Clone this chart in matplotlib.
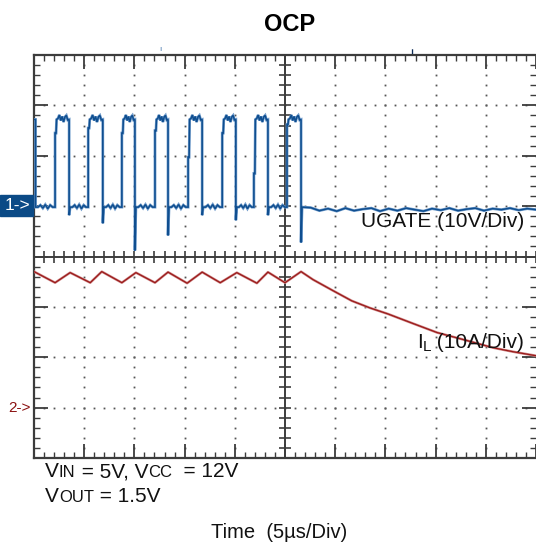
import matplotlib
matplotlib.use("Agg")
import matplotlib.pyplot as plt
from matplotlib.patches import Rectangle
import numpy as np

plt.rcParams['font.family'] = ['Liberation Sans', 'DejaVu Sans']

# ---------------- data (in scope divisions) ----------------
# UGATE (channel 1, ground at +1 div)
gate_rise = [0.42, 1.08, 1.75, 2.41, 3.07, 3.75, 4.38, 5.04]
gate_fall = [0.70, 1.37, 2.01, 2.67, 3.35, 4.02, 4.66, 5.32]
gate_step = [2.45, 2.55, 2.45, 2.50, 1.97, 2.45, 1.65, 2.62]
gate_spike = [0.82, 0.66, 0.12, 0.42, 0.82, 0.72, 0.82, 0.28]
gate_high = 2.72
gate_low = 0.98
gate_low_after = 0.91
gate_high_ripple = [0.02, 0.09, -0.02, 0.06, -0.05, 0.05, 0.08, -0.01]
gate_low_ripple = [0.00, 0.04, -0.02, 0.05, -0.03, 0.04, 0.00]
gate_tail_ripple = [0.06, 0.00, 0.04, -0.01, 0.05, 0.00, 0.03, 0.05, -0.01,
                    0.04, 0.00, 0.05, 0.02, -0.01, 0.04, 0.01, 0.05, 0.00,
                    0.03, 0.05, 0.00, 0.04, 0.02, 0.05, 0.01, 0.04]

# IL (channel 2)
il_x = [0.00, 0.42, 0.72, 1.12, 1.35, 1.75, 2.03, 2.41, 2.67, 3.05, 3.35,
        3.71, 4.04, 4.44, 4.66, 5.00, 5.32, 5.56, 5.96, 6.33, 6.69, 7.05,
        7.55, 8.03, 8.63, 9.14, 9.54, 10.00]
il_y = [-0.30, -0.52, -0.32, -0.52, -0.30, -0.52, -0.32, -0.52, -0.31, -0.53,
        -0.31, -0.52, -0.32, -0.53, -0.31, -0.52, -0.30, -0.46, -0.68, -0.88,
        -1.02, -1.14, -1.33, -1.51, -1.67, -1.81, -1.89, -1.97]

# ---------------- build gate trace ----------------
gx = [0.0, 0.03, 0.03]
gy = [gate_high, gate_high, gate_low]
prev = 0.03
for r, f, st, sp in zip(gate_rise, gate_fall, gate_step, gate_spike):
    n = len(gate_low_ripple)
    for k, d in enumerate(gate_low_ripple):
        gx.append(prev + (r - prev) * (k + 1) / (n + 1)); gy.append(gate_low + d)
    gx += [r, r, r + 0.02, r + 0.03]
    gy += [gate_low, st, st, gate_high]
    m = len(gate_high_ripple)
    for k, d in enumerate(gate_high_ripple):
        gx.append(r + 0.03 + (f - r - 0.03) * (k + 1) / (m + 1)); gy.append(gate_high + d)
    gx += [f, f, f + 0.02]
    gy += [gate_high, sp, gate_low]
    prev = f + 0.02
nt = len(gate_tail_ripple)
for k, d in enumerate(gate_tail_ripple):
    gx.append(prev + (10 - prev) * (k + 1) / (nt + 1)); gy.append(gate_low_after + d)
gx.append(10.0); gy.append(gate_low_after + 0.02)

# ---------------- figure ----------------
W, H = 536, 557
fig = plt.figure(figsize=(W / 100, H / 100), dpi=100)
L, R, T, B = 34, 536, 55, 458
ax = fig.add_axes([L / W, 1 - B / H, (R - L) / W, (B - T) / H])
ax.set_xlim(0, 10)
ax.set_ylim(-4, 4)

edge = '#3c3c3c'
for s in ['left', 'top', 'bottom']:
    ax.spines[s].set_color(edge)
    ax.spines[s].set_linewidth(1.6)
ax.spines['right'].set_visible(False)

ax.set_xticks(np.arange(0, 11, 1))
ax.set_xticks(np.arange(0, 10.01, 0.2), minor=True)
ax.set_yticks(np.arange(-4, 5, 1))
ax.set_yticks(np.arange(-4, 4.01, 0.2), minor=True)
ax.tick_params(which='both', direction='in', top=True, bottom=True, left=True,
               right=True, labelbottom=False, labelleft=False, color=edge)
ax.tick_params(which='major', length=10, width=1.3)
ax.tick_params(which='minor', length=4, width=1.0)

# dotted grid
dots = np.arange(0, 10.01, 0.2)
yd = np.arange(-4, 4.01, 0.2)
for xv in [1, 2, 3, 4, 6, 7, 8, 9]:
    ax.plot(np.full_like(yd, xv), yd, ls='none', marker='s', ms=1.3, mew=0,
            color='#555555', zorder=1)
for yv in [-3, -2, -1, 1, 2, 3]:
    ax.plot(dots, np.full_like(dots, yv), ls='none', marker='s', ms=1.3, mew=0,
            color='#555555', zorder=1)

# center cross
ax.axhline(0, color=edge, lw=1.4, zorder=2)
ax.axvline(5, color=edge, lw=1.4, zorder=2)
ax.plot(dots, np.zeros_like(dots), ls='none', marker='|', ms=8, mew=1.2,
        color=edge, zorder=2)
ax.plot(np.full_like(yd, 5), yd, ls='none', marker='_', ms=8, mew=1.2,
        color=edge, zorder=2)

# traces
ax.plot(gx, gy, color='#6f9bcb', lw=2.0, zorder=3, solid_joinstyle='miter')
ax.plot(gx, gy, color='#0f4e8f', lw=1.1, zorder=4, solid_joinstyle='miter')
ax.plot(il_x, il_y, color='#d08a8a', lw=1.8, zorder=3)
ax.plot(il_x, il_y, color='#9a1a1a', lw=0.9, zorder=4)

# ---------------- texts ----------------
def px(x, y):
    return x / W, 1 - y / H

fig.text(*px(290, 31), 'OCP', ha='center', va='baseline', fontsize=17,
         fontweight='bold', color='black')

fig.text(*px(524, 227), 'UGATE (10V/Div)', ha='right', va='baseline',
         fontsize=15, color='#111111')

renderer = fig.canvas.get_renderer()

def runs(x0, y0, parts, color='#111111'):
    x = x0
    for txt, size, dy in parts:
        t = fig.text(*px(x, y0 + dy), txt, ha='left', va='baseline',
                     fontsize=size, color=color)
        x += t.get_window_extent(renderer).width
    return x

runs(417, 348, [('I', 15, 0), ('L', 11, 3), (' (10A/Div)', 15, 0)])
runs(45, 477, [('V', 15, 0), ('IN', 12, 0), (' = 5V, V', 15, 0),
               ('CC', 12, 0), ('  = 12V', 15, 0)])
runs(45, 502, [('V', 15, 0), ('OUT', 12, 0), (' = 1.5V', 15, 0)])

fig.text(*px(279, 538), 'Time  (5µs/Div)', ha='center', va='baseline',
         fontsize=14.5, color='#111111')

# channel markers
fig.patches.append(Rectangle((0, 1 - 216 / H), 33 / W, 21 / H,
                             transform=fig.transFigure, color='#0b4a86'))
fig.text(*px(17, 206), '1->', ha='center', va='center', fontsize=12.5,
         color='white')
fig.text(*px(19, 408), '2->', ha='center', va='center', fontsize=11,
         color='#8b1111')

# small trigger marks on top
fig.text(*px(160, 51), 'ı', ha='center', va='baseline', fontsize=6,
         color='#4a7ab0')
fig.text(*px(412, 52), '╻', ha='center', va='baseline', fontsize=6,
         color='#0b2a55')

fig.savefig('out.png', dpi=100)
